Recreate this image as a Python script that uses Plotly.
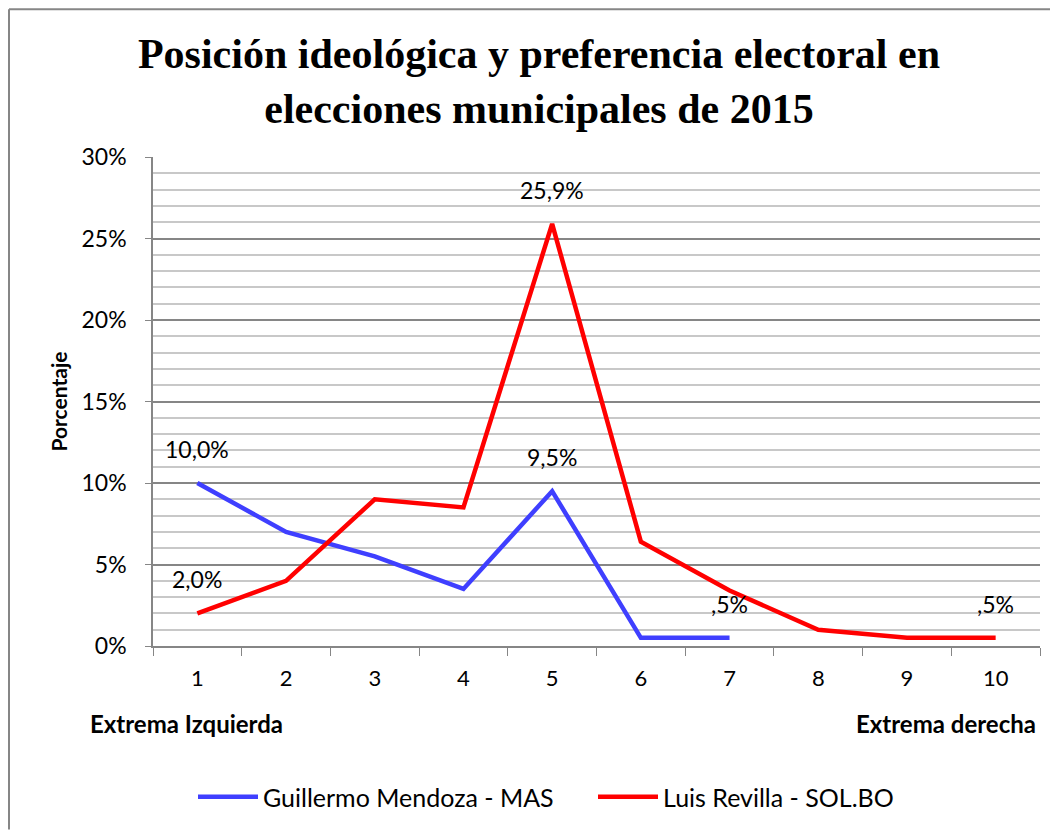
import plotly.graph_objects as go

categories = ["1", "2", "3", "4", "5", "6", "7", "8", "9", "10"]
mas_values = [10.0, 7.0, 5.5, 3.5, 9.5, 0.5, 0.5]
sol_values = [2.0, 4.0, 9.0, 8.5, 25.9, 6.4, 3.4, 1.0, 0.5, 0.5]
mas_labels = ["10,0%", "", "", "", "9,5%", "", ",5%"]
sol_labels = ["2,0%", "", "", "", "25,9%", "", "", "", "", ",5%"]
y_ticks = [0, 5, 10, 15, 20, 25, 30]
y_ticktext = [f"{v}%" for v in y_ticks]

FONT = "Lato"
W, H = 1050, 823
L, R, T, B = 145, 18, 149, 184
PW, PH = W - L - R, H - T - B

fig = go.Figure()
fig.add_trace(go.Scatter(x=categories[:len(mas_values)], y=mas_values, mode="lines",
                         name="Guillermo Mendoza - MAS",
                         line=dict(color="#3F3FFF", width=4.5)))
fig.add_trace(go.Scatter(x=categories, y=sol_values, mode="lines",
                         name="Luis Revilla - SOL.BO",
                         line=dict(color="#FF0000", width=4.5)))

anns = []
for ys, ls in [(mas_values, mas_labels), (sol_values, sol_labels)]:
    for i, (y, t) in enumerate(zip(ys, ls)):
        if t:
            anns.append(dict(x=i, y=y, text=t, showarrow=False, yshift=34,
                             font=dict(family=FONT, size=23, color="black")))

anns.append(dict(xref="paper", yref="paper", x=(80 - L) / PW, y=(H - B - 717) / PH,
                 xanchor="left", yanchor="middle",
                 text="<b>Extrema Izquierda</b>", showarrow=False,
                 font=dict(family=FONT, size=24, color="black")))
anns.append(dict(xref="paper", yref="paper", x=(1030 - L) / PW, y=(H - B - 717) / PH,
                 xanchor="right", yanchor="middle",
                 text="<b>Extrema derecha</b>", showarrow=False,
                 font=dict(family=FONT, size=24, color="black")))

fig.update_layout(
    width=W, height=H,
    margin=dict(l=L, r=R, t=T, b=B),
    paper_bgcolor="white", plot_bgcolor="white",
    title=dict(text="<b>Posición ideológica y preferencia electoral en<br>elecciones municipales de 2015</b>",
               x=531 / W, xanchor="center", y=1 - 60 / H, yanchor="middle",
               font=dict(family="Liberation Serif", size=42, color="black")),
    xaxis=dict(type="category", range=[-0.5, 9.5], showgrid=False,
               showline=True, linecolor="#868686", linewidth=1.5,
               ticks="outside", tickson="boundaries", ticklen=8, tickcolor="#868686",
               tickfont=dict(family=FONT, size=22, color="black"), ticklabelstandoff=12),
    yaxis=dict(range=[0, 30], tickvals=y_ticks, ticktext=y_ticktext,
               showgrid=True, gridcolor="#868686", gridwidth=1.5,
               showline=True, linecolor="#868686", linewidth=1.5,
               ticks="outside", ticklen=6, tickcolor="#868686", zeroline=False,
               tickfont=dict(family=FONT, size=23, color="black"), ticklabelstandoff=14,
               minor=dict(dtick=1, showgrid=True, gridcolor="#C8C8C8", gridwidth=1.5),
               title=dict(text="<b>Porcentaje</b>", standoff=8,
                          font=dict(family=FONT, size=21, color="black"))),
    legend=dict(orientation="h", x=(585 - L) / PW, xanchor="center",
                y=(H - B - 789) / PH, yanchor="middle", itemwidth=60,
                entrywidth=325, entrywidthmode="pixels",
                font=dict(family=FONT, size=25, color="black")),
    annotations=anns,
    shapes=[
        dict(type="line", xref="paper", yref="paper",
             x0=(1 - L) / PW, x1=(1 - L) / PW, y0=(H - B - H) / PH, y1=(H - B - 1) / PH,
             line=dict(color="#868686", width=2)),
        dict(type="line", xref="paper", yref="paper",
             x0=(1 - L) / PW, x1=(W - L) / PW, y0=(H - B - 1) / PH, y1=(H - B - 1) / PH,
             line=dict(color="#868686", width=2)),
    ],
)

fig.write_html("out.html")
